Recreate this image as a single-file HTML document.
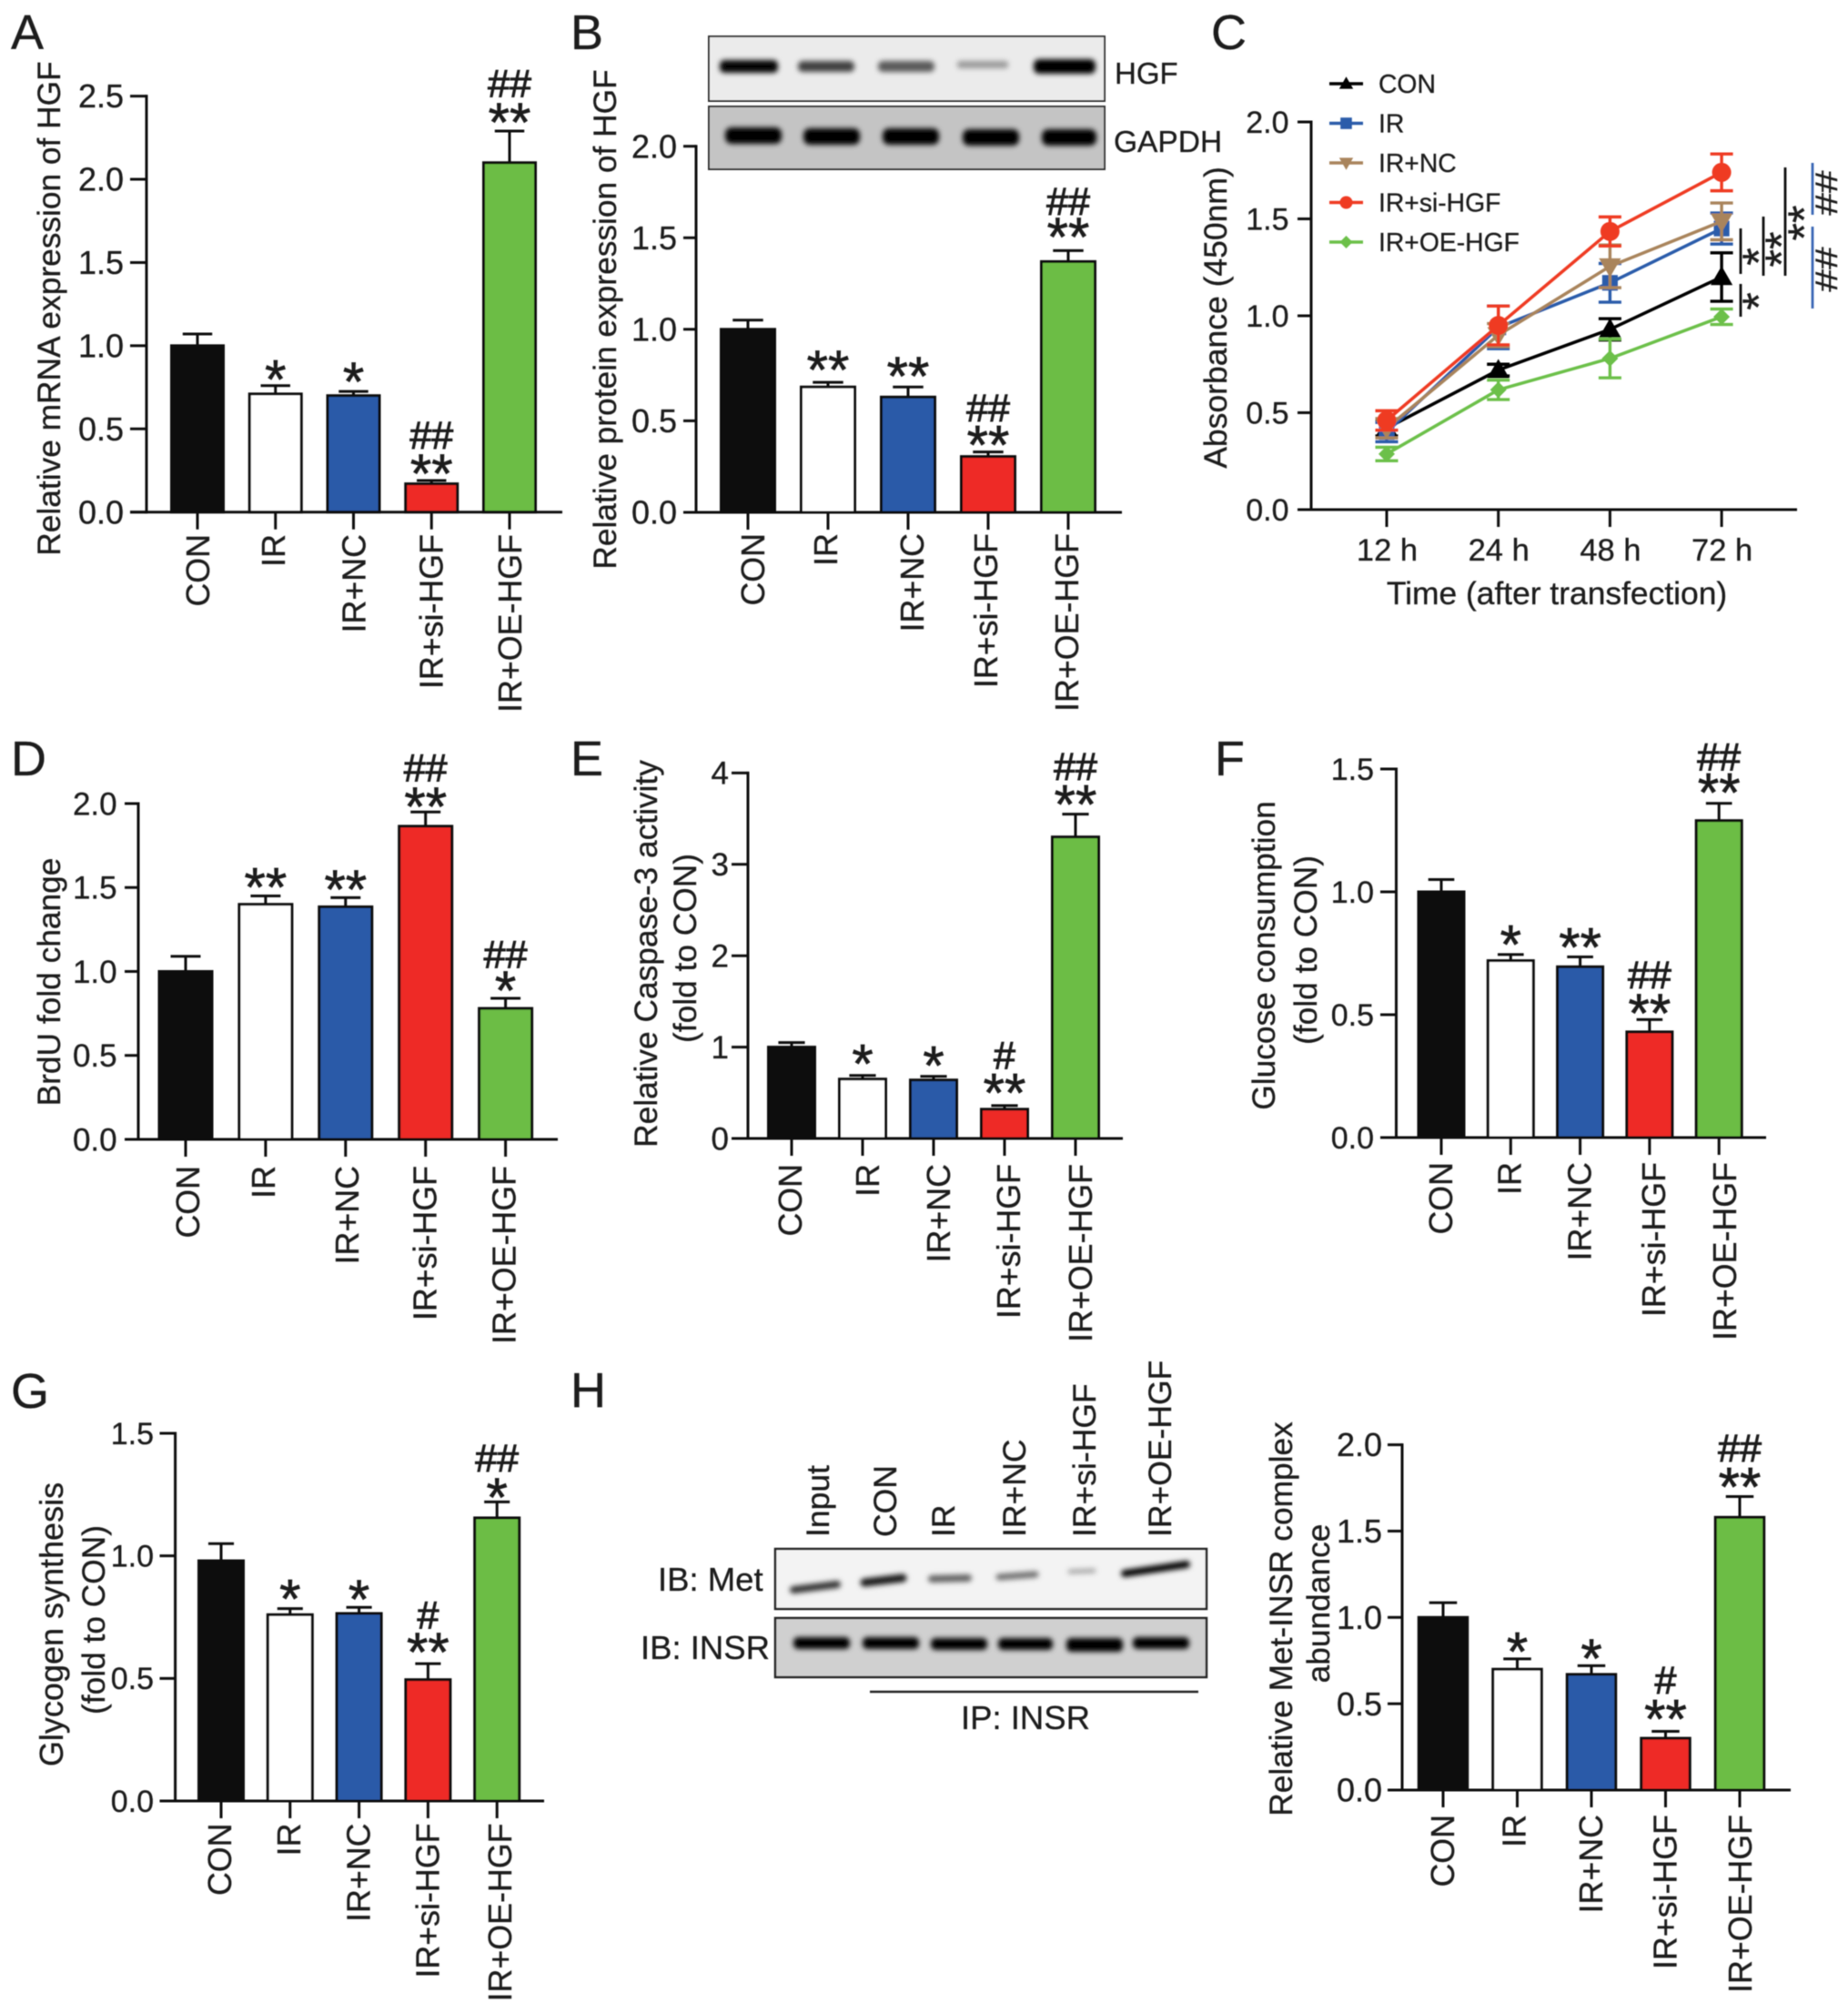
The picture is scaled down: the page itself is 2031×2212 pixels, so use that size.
<!DOCTYPE html>
<html lang="en">
<head>
<meta charset="utf-8">
<title>HGF multi-panel figure</title>
<style>
html,body{margin:0;padding:0;background:#fff}
svg{display:block}
text{font-family:"Liberation Sans",Arial,sans-serif;fill:#1b1b1b;stroke:#1b1b1b;stroke-width:.3}
</style>
</head>
<body>
<svg id="figure" xmlns="http://www.w3.org/2000/svg" width="2031" height="2212" viewBox="0 0 2031 2212">
<defs>
<filter id="soft" x="-2%" y="-2%" width="104%" height="104%"><feGaussianBlur stdDeviation="0.6"/></filter>
<filter id="band" x="-20%" y="-120%" width="140%" height="340%"><feGaussianBlur stdDeviation="3"/></filter>
</defs>
<rect width="2031" height="2212" fill="#fff"/>
<g id="root" filter="url(#soft)">

<g font-size="54">
<text x="12" y="54">A</text>
<text x="627" y="54">B</text>
<text x="1331" y="54">C</text>
<text x="12" y="852">D</text>
<text x="627" y="852">E</text>
<text x="1335" y="852">F</text>
<text x="12" y="1547">G</text>
<text x="627" y="1546">H</text>
</g>

<g font-size="35.3" text-anchor="middle">
<text transform="translate(66,339) rotate(-90)">Relative mRNA expression of HGF</text>
<text transform="translate(677,351) rotate(-90)">Relative protein expression of HGF</text>
<text transform="translate(1348,349) rotate(-90)" font-size="35.5">Absorbance (450nm)</text>
<text transform="translate(66,1079) rotate(-90)">BrdU fold change</text>
<text transform="translate(722,1048) rotate(-90)">Relative Caspase-3 activity</text>
<text transform="translate(765,1042) rotate(-90)">(fold to CON)</text>
<text transform="translate(1401,1050) rotate(-90)">Glucose consumption</text>
<text transform="translate(1447,1044) rotate(-90)">(fold to CON)</text>
<text transform="translate(69,1785) rotate(-90)" font-size="36">Glycogen synthesis</text>
<text transform="translate(115,1780) rotate(-90)">(fold to CON)</text>
<text transform="translate(1420,1779) rotate(-90)">Relative Met-INSR complex</text>
<text transform="translate(1461,1762) rotate(-90)">abundance</text>
</g>

<g>
<rect x="779" y="40" width="435" height="71" fill="#ebebeb" stroke="#333" stroke-width="2"/>
<g fill="#000" filter="url(#band)">
<rect x="791" y="66" width="64" height="14" rx="5" opacity=".98"/>
<rect x="877" y="67" width="62" height="12" rx="5" opacity=".72"/>
<rect x="965" y="67" width="62" height="12" rx="5" opacity=".62"/>
<rect x="1052" y="67" width="56" height="8" rx="3" opacity=".35"/>
<rect x="1136" y="65" width="68" height="16" rx="6" opacity="1"/>
</g>
</g>
<g>
<rect x="779" y="117" width="435" height="69" fill="#c4c4c4" stroke="#333" stroke-width="2"/>
<g fill="#000" filter="url(#band)">
<rect x="797" y="140" width="62" height="18" rx="7"/>
<rect x="883" y="141" width="62" height="18" rx="7"/>
<rect x="970" y="141" width="62" height="18" rx="7"/>
<rect x="1058" y="142" width="62" height="18" rx="7"/>
<rect x="1145" y="142" width="60" height="18" rx="7"/>
</g>
</g>
<text x="1225" y="92" font-size="33">HGF</text>
<text x="1224" y="167" font-size="33.5">GAPDH</text>

<g>
<rect x="852" y="1702" width="474" height="66" fill="#f3f3f3" stroke="#222" stroke-width="2.5"/>
<g stroke="#000" fill="none" stroke-linecap="round" filter="url(#band)">
<line x1="872" y1="1747" x2="920" y2="1741" stroke-width="8" opacity=".8"/>
<line x1="950" y1="1739" x2="992" y2="1734" stroke-width="9" opacity=".9"/>
<line x1="1024" y1="1735" x2="1064" y2="1734" stroke-width="8" opacity=".6"/>
<line x1="1098" y1="1733" x2="1138" y2="1730" stroke-width="7" opacity=".55"/>
<line x1="1176" y1="1727" x2="1202" y2="1726" stroke-width="5" opacity=".32"/>
<line x1="1236" y1="1729" x2="1304" y2="1719" stroke-width="8" opacity="1"/>
</g>
</g>
<g>
<rect x="852" y="1778" width="474" height="65" fill="#d0d0d0" stroke="#222" stroke-width="2.5"/>
<g fill="#000" filter="url(#band)">
<rect x="872" y="1799" width="62" height="13" rx="5"/>
<rect x="948" y="1799" width="62" height="13" rx="5"/>
<rect x="1023" y="1800" width="62" height="13" rx="5"/>
<rect x="1097" y="1800" width="60" height="13" rx="5"/>
<rect x="1172" y="1800" width="62" height="15" rx="5"/>
<rect x="1245" y="1799" width="62" height="13" rx="5"/>
</g>
</g>
<g font-size="35.5">
<text transform="translate(911,1689) rotate(-90)">Input</text>
<text transform="translate(985,1689) rotate(-90)">CON</text>
<text transform="translate(1049,1689) rotate(-90)">IR</text>
<text transform="translate(1127,1689) rotate(-90)">IR+NC</text>
<text transform="translate(1204,1689) rotate(-90)">IR+si-HGF</text>
<text transform="translate(1287,1689) rotate(-90)">IR+OE-HGF</text>
<text x="723" y="1748" font-size="36.5">IB: Met</text>
<text x="704" y="1823" font-size="36.5">IB: INSR</text>
<text x="1056" y="1900" font-size="36.5">IP: INSR</text>
</g>
<line x1="956" y1="1859" x2="1317" y2="1859" stroke="#222" stroke-width="2.5"/>

<g id="charts"></g>
</g>
</svg>

<script>
/* ---------- shared category data ---------- */
const categories = ['CON', 'IR', 'IR+NC', 'IR+si-HGF', 'IR+OE-HGF'];

/* ---------- panel A ---------- */
const aTicks = ['0.0', '0.5', '1.0', '1.5', '2.0', '2.5'];
const aValues = [1.0, 0.71, 0.70, 0.17, 2.10];
const aErrors = [0.07, 0.05, 0.025, 0.02, 0.19];
const aStars = ['', '*', '*', '**', '**'];
const aHashes = ['', '', '', '##', '##'];

/* ---------- panel B ---------- */
const bTicks = ['0.0', '0.5', '1.0', '1.5', '2.0'];
const bValues = [1.0, 0.685, 0.63, 0.305, 1.37];
const bErrors = [0.05, 0.025, 0.055, 0.025, 0.06];
const bStars = ['', '**', '**', '**', '**'];
const bHashes = ['', '', '', '##', '##'];

/* ---------- panel D ---------- */
const dTicks = ['0.0', '0.5', '1.0', '1.5', '2.0'];
const dValues = [1.0, 1.40, 1.385, 1.865, 0.78];
const dErrors = [0.09, 0.05, 0.055, 0.085, 0.06];
const dStars = ['', '**', '**', '**', '*'];
const dHashes = ['', '', '', '##', '##'];

/* ---------- panel E ---------- */
const eTicks = ['0', '1', '2', '3', '4'];
const eValues = [1.0, 0.65, 0.64, 0.32, 3.30];
const eErrors = [0.05, 0.04, 0.04, 0.04, 0.25];
const eStars = ['', '*', '*', '**', '**'];
const eHashes = ['', '', '', '#', '##'];

/* ---------- panel F ---------- */
const fTicks = ['0.0', '0.5', '1.0', '1.5'];
const fValues = [1.0, 0.72, 0.695, 0.43, 1.29];
const fErrors = [0.05, 0.025, 0.04, 0.05, 0.07];
const fStars = ['', '*', '**', '**', '**'];
const fHashes = ['', '', '', '##', '##'];

/* ---------- panel G ---------- */
const gTicks = ['0.0', '0.5', '1.0', '1.5'];
const gValues = [0.98, 0.76, 0.765, 0.495, 1.155];
const gErrors = [0.07, 0.025, 0.025, 0.065, 0.065];
const gStars = ['', '*', '*', '**', '*'];
const gHashes = ['', '', '', '#', '##'];

/* ---------- panel H ---------- */
const hTicks = ['0.0', '0.5', '1.0', '1.5', '2.0'];
const hValues = [1.0, 0.70, 0.67, 0.30, 1.58];
const hErrors = [0.085, 0.06, 0.05, 0.04, 0.12];
const hStars = ['', '*', '*', '**', '**'];
const hHashes = ['', '', '', '#', '##'];

/* ---------- panel C line chart ---------- */
const timeLabels = ['12 h', '24 h', '48 h', '72 h'];
const cTicks = ['0.0', '0.5', '1.0', '1.5', '2.0'];
const seriesNames = ['CON', 'IR', 'IR+NC', 'IR+si-HGF', 'IR+OE-HGF'];
const conValues = [0.42, 0.72, 0.93, 1.20];
const conErrors = [0.04, 0.03, 0.055, 0.125];
const irValues = [0.40, 0.94, 1.17, 1.45];
const irErrors = [0.05, 0.11, 0.10, 0.08];
const ncValues = [0.42, 0.90, 1.255, 1.487];
const ncErrors = [0.05, 0.06, 0.11, 0.095];
const siValues = [0.46, 0.95, 1.435, 1.74];
const siErrors = [0.05, 0.10, 0.075, 0.095];
const oeValues = [0.287, 0.618, 0.78, 0.995];
const oeErrors = [0.035, 0.05, 0.10, 0.04];

/* ---------- layout & styling (not data) ---------- */
const barFills = ['#0a0d0c', '#ffffff', '#2a5aa8', '#ee2b27', '#6cbd45'];
const lineColors = ['#000000', '#2a5caa', '#a9845c', '#ef3b24', '#6cc04a'];
const markerKinds = ['up', 'square', 'down', 'circle', 'diamond'];
const NS = 'http://www.w3.org/2000/svg';
const charts = document.getElementById('charts');

function svgEl(tag, attrs, parent) {
  const el = document.createElementNS(NS, tag);
  for (const k in attrs) el.setAttribute(k, attrs[k]);
  parent.appendChild(el);
  return el;
}
function addText(parent, str, attrs) {
  const el = svgEl('text', attrs, parent);
  el.textContent = str;
  return el;
}
function slug(s) {
  return s.toLowerCase().replace(/[^a-z0-9]+/g, '-');
}

function drawBarPanel(p) {
  const g = svgEl('g', {}, charts);
  
  

  const yMax = parseFloat(p.ticks[p.ticks.length - 1]);
  const yScale = function (v) { return p.y0 - v / yMax * (p.y0 - p.yTop); };
  const xScale = function (i) { return p.c0 + i * p.step; };

  p.values.forEach(function (v, i) {
    const cx = xScale(i);
    const top = yScale(v + p.errors[i]);
    const stem = svgEl('path', {
      d: 'M' + cx + ' ' + yScale(v) + 'V' + top + 'M' + (cx - p.w * 0.27) + ' ' + top + 'H' + (cx + p.w * 0.27),
      stroke: '#111', 'stroke-width': 3, fill: 'none'
    }, g);
    
    

    const bar = svgEl('rect', {
      x: cx - p.w / 2 + 1.5, y: yScale(v), width: p.w - 3, height: p.y0 - yScale(v),
      fill: barFills[i], stroke: '#111', 'stroke-width': 3
    }, g);
    
    

    if (p.stars[i]) {
      const starCy = top - p.starGaps[i];
      const star = addText(g, p.stars[i], {
        x: cx, y: starCy + 0.58 * 60, 'font-size': 60, 'text-anchor': 'middle',
        style: 'stroke-width:.7'
      });
      
      
      if (p.hashes[i]) {
        const hash = addText(g, p.hashes[i], {
          x: cx, y: starCy - p.hashGaps[i] + 0.36 * 43, 'font-size': 43, 'text-anchor': 'middle',
          style: 'stroke-width:1'
        });
        
        
      }
    }

    const tick = svgEl('line', {
      x1: cx, x2: cx, y1: p.y0, y2: p.y0 + 19, stroke: '#111', 'stroke-width': 3
    }, g);
    
    

    const lx = cx + p.catOffs[i];
    const label = addText(g, categories[i], {
      transform: 'translate(' + lx + ',' + p.catTop + ') rotate(-90)',
      'font-size': 35.8, 'text-anchor': 'end'
    });
    
    
  });

  drawAxes(g, p, yScale);
}

function drawAxes(g, p, yScale) {
  const yAxis = svgEl('line', {
    x1: p.ax, x2: p.ax, y1: p.yTop - 1.5, y2: p.y0 + 1.5, stroke: '#111', 'stroke-width': 3
  }, g);
  
  

  const xAxis = svgEl('line', {
    x1: p.xl, x2: p.xr, y1: p.y0, y2: p.y0, stroke: '#111', 'stroke-width': 3
  }, g);
  
  

  p.ticks.forEach(function (t) {
    const y = yScale(parseFloat(t));
    const tick = svgEl('line', {
      x1: p.xl, x2: p.ax, y1: y, y2: y, stroke: '#111', 'stroke-width': 3
    }, g);
    
    

    const label = addText(g, t, {
      x: p.tickR, y: y + p.tickF * 0.35, 'font-size': p.tickF, 'text-anchor': 'end'
    });
    
    
  });
}

function drawMarker(g, kind, cx, cy, r, color) {
  if (kind === 'circle') return svgEl('circle', { cx: cx, cy: cy, r: r, fill: color }, g);
  if (kind === 'square') return svgEl('rect', { x: cx - r * 0.9, y: cy - r * 0.9, width: r * 1.8, height: r * 1.8, fill: color }, g);
  let pts;
  if (kind === 'up') pts = [[cx, cy - r * 1.1], [cx + r * 1.1, cy + r * 0.8], [cx - r * 1.1, cy + r * 0.8]];
  else if (kind === 'down') pts = [[cx, cy + r * 1.1], [cx + r * 1.1, cy - r * 0.8], [cx - r * 1.1, cy - r * 0.8]];
  else pts = [[cx, cy - r], [cx + r, cy], [cx, cy + r], [cx - r, cy]];
  return svgEl('polygon', { points: pts.map(function (q) { return q.join(','); }).join(' '), fill: color }, g);
}

function drawLinePanel(p) {
  const g = svgEl('g', {}, charts);
  
  

  const yMax = parseFloat(p.ticks[p.ticks.length - 1]);
  const yScale = function (v) { return p.y0 - v / yMax * (p.y0 - p.yTop); };
  const xScale = function (i) { return p.c0 + i * p.step; };
  const markerR = [11, 9.5, 11, 10.5, 9];

  p.series.forEach(function (vals, s) {
    const color = lineColors[s];
    const sg = svgEl('g', {}, g);
    
    

    const line = svgEl('polyline', {
      points: vals.map(function (v, i) { return xScale(i) + ',' + yScale(v); }).join(' '),
      fill: 'none', stroke: color, 'stroke-width': 3.5
    }, sg);
    
    

    vals.forEach(function (v, i) {
      const cx = xScale(i);
      const hi = yScale(v + p.errs[s][i]);
      const lo = yScale(v - p.errs[s][i]);
      const err = svgEl('path', {
        d: 'M' + cx + ' ' + lo + 'V' + hi + 'M' + (cx - 12.5) + ' ' + hi + 'H' + (cx + 12.5) + 'M' + (cx - 12.5) + ' ' + lo + 'H' + (cx + 12.5),
        fill: 'none', stroke: color, 'stroke-width': 3.4
      }, sg);
      
      

      const pt = drawMarker(sg, markerKinds[s], cx, yScale(v), markerR[s], color);
      
      
    });
  });

  timeLabels.forEach(function (t, i) {
    const cx = xScale(i);
    const tick = svgEl('line', { x1: cx, x2: cx, y1: p.y0, y2: p.y0 + 19, stroke: '#111', 'stroke-width': 3 }, g);
    
    
    const label = addText(g, t, { x: cx + 0.5, y: 616, 'font-size': 34.5, 'text-anchor': 'middle' });
    
    
  });

  const title = addText(g, 'Time (after transfection)', { x: 1711, y: 664, 'font-size': 35.4, 'text-anchor': 'middle' });
  
  

  drawAxes(g, p, yScale);

  seriesNames.forEach(function (n, s) {
    const color = lineColors[s];
    const ly = 92 + s * 43.5;
    const entry = svgEl('g', {}, g);
    
    

    const key = svgEl('line', { x1: 1461, x2: 1498, y1: ly, y2: ly, stroke: color, 'stroke-width': 3.4 }, entry);
    
    

    const mk = drawMarker(entry, markerKinds[s], 1479.5, ly, 7, color);
    
    

    const label = addText(entry, n, { x: 1515, y: ly + 10, 'font-size': 28.3 });
    
    
  });

  /* significance brackets to the right of the 72 h points */
  const bracketSpecs = [
    [1913, 251, 301, '#111'], [1913, 312, 348, '#111'], [1938, 238, 303, '#111'],
    [1962, 184, 303, '#111'], [1992, 179, 236, '#3a66b5'], [1992, 249, 339, '#3a66b5']
  ];
  bracketSpecs.forEach(function (b, i) {
    const br = svgEl('line', { x1: b[0], x2: b[0], y1: b[1], y2: b[2], stroke: b[3], 'stroke-width': 2.8 }, g);
    
    
  });
  const markSpecs = [
    [1921, 282, '*', 50, 1], [1921, 331, '*', 50, 1], [1946, 274, '**', 50, 1],
    [1971, 245, '**', 50, 1], [2007, 212, '##', 34, 1.3], [2007, 296, '##', 34, 1.3]
  ];
  markSpecs.forEach(function (m, i) {
    const isStar = m[2].charAt(0) === '*';
    const off = (isStar ? 0.58 : 0.36) * m[3];
    const t = addText(g, m[2], {
      transform: 'translate(' + (m[0] + off) + ',' + m[1] + ') rotate(-90) scale(' + m[4] + ',1)',
      'font-size': m[3], 'text-anchor': 'middle', style: 'stroke-width:.4'
    });
    
    
  });
}

const barPanels = [
  { id: 'a', ticks: aTicks, values: aValues, errors: aErrors, stars: aStars, hashes: aHashes,
    ax: 161, yTop: 105.6, y0: 562.7, c0: 217, step: 85.75, w: 60, xl: 143, xr: 618, tickR: 136, tickF: 36, catTop: 587,
    catOffs: [13, 10, 13, 12, 13], starGaps: [0, 21, 25, 22, 24], hashGaps: [0, 0, 0, 28.5, 29] },
  { id: 'b', ticks: bTicks, values: bValues, errors: bErrors, stars: bStars, hashes: bHashes,
    ax: 765, yTop: 160.7, y0: 563, c0: 822, step: 88, w: 62, xl: 751, xr: 1233, tickR: 744, tickF: 36, catTop: 586,
    catOffs: [18, 10, 17, 10, 11], starGaps: [0, 28, 26, 22, 29], hashGaps: [0, 0, 0, 27, 25.6] },
  { id: 'd', ticks: dTicks, values: dValues, errors: dErrors, stars: dStars, hashes: dHashes,
    ax: 152, yTop: 883, y0: 1252, c0: 204, step: 87.9, w: 61, xl: 137, xr: 613, tickR: 128.6, tickF: 35, catTop: 1281,
    catOffs: [15, 10, 14, 12, 11], starGaps: [0, 24, 23, 20, 23], hashGaps: [0, 0, 0, 29, 26] },
  { id: 'e', ticks: eTicks, values: eValues, errors: eErrors, stars: eStars, hashes: eHashes,
    ax: 822, yTop: 849.4, y0: 1251, c0: 870, step: 78, w: 54, xl: 804, xr: 1234, tickR: 801, tickF: 35, catTop: 1279,
    catOffs: [11, 18, 18, 17, 18], starGaps: [0, 27, 26, 28, 25], hashGaps: [0, 0, 0, 28, 28] },
  { id: 'f', ticks: fTicks, values: fValues, errors: fErrors, stars: fStars, hashes: fHashes,
    ax: 1534.5, yTop: 845, y0: 1250, c0: 1584, step: 76.3, w: 53, xl: 1517, xr: 1941, tickR: 1510, tickF: 34, catTop: 1277,
    catOffs: [12, 11, 12, 17, 19], starGaps: [0, 25, 25, 21, 26], hashGaps: [0, 0, 0, 29, 26] },
  { id: 'g', ticks: gTicks, values: gValues, errors: gErrors, stars: gStars, hashes: gHashes,
    ax: 192.6, yTop: 1575, y0: 1979, c0: 243, step: 75.8, w: 52, xl: 175.5, xr: 598, tickR: 169, tickF: 34, catTop: 2003.5,
    catOffs: [11, 11, 12, 12, 16], starGaps: [0, 25, 23, 27, 19], hashGaps: [0, 0, 0, 27, 30] },
  { id: 'h', ticks: hTicks, values: hValues, errors: hErrors, stars: hStars, hashes: hHashes,
    ax: 1541, yTop: 1587.6, y0: 1967, c0: 1586, step: 81.5, w: 56.5, xl: 1525, xr: 1968, tickR: 1519, tickF: 36, catTop: 1994,
    catOffs: [12, 9, 12, 12, 13], starGaps: [0, 22, 22, 28, 25], hashGaps: [0, 0, 0, 29, 29] }
];
barPanels.forEach(drawBarPanel);

drawLinePanel({
  id: 'c', ticks: cTicks,
  series: [conValues, irValues, ncValues, siValues, oeValues],
  errs: [conErrors, irErrors, ncErrors, siErrors, oeErrors],
  ax: 1441, yTop: 134, y0: 560, c0: 1524, step: 122.7, xl: 1426, xr: 1975, tickR: 1416.5, tickF: 34
});
</script>
</body>
</html>
